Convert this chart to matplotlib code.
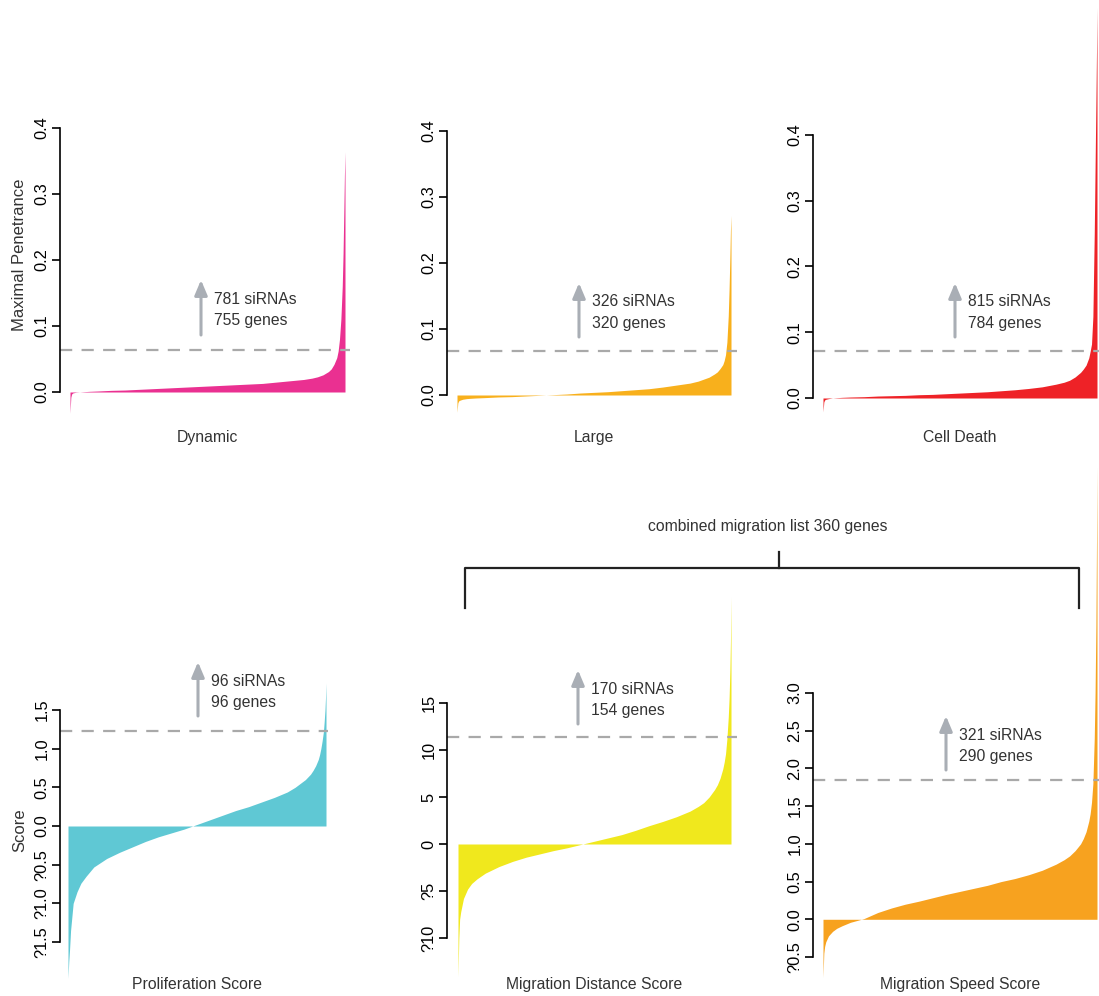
import numpy as np
import matplotlib.pyplot as plt
from matplotlib.lines import Line2D

plt.rcParams['font.family'] = ['Liberation Sans', 'DejaVu Sans']

W, H = 1099, 996

# rank position (percent of sorted siRNAs)
rank = [0, 0.3, 0.6, 1, 2, 3.5, 5, 7, 10, 15, 20, 25, 30, 35, 40, 45, 50, 55, 60,
        65, 70, 75, 80, 85, 88, 90, 92, 94, 95, 96, 97, 97.5, 98, 98.5, 99, 99.3,
        99.6, 99.8, 100]

dynamic = [-0.032, -0.008, -0.003, -0.0015, -0.0005, 0.0, 0.0005, 0.001, 0.0015,
           0.0025, 0.003, 0.004, 0.005, 0.006, 0.007, 0.008, 0.009, 0.010, 0.011,
           0.012, 0.013, 0.015, 0.017, 0.019, 0.021, 0.023, 0.026, 0.031, 0.035,
           0.042, 0.052, 0.062, 0.08, 0.11, 0.16, 0.21, 0.28, 0.33, 0.364]
large = [-0.026, -0.012, -0.009, -0.008, -0.0065, -0.0055, -0.005, -0.0045, -0.004,
         -0.003, -0.0025, -0.0015, -0.0005, 0.0005, 0.0015, 0.003, 0.004, 0.005,
         0.0065, 0.008, 0.0095, 0.012, 0.015, 0.018, 0.021, 0.024, 0.027, 0.032,
         0.035, 0.040, 0.046, 0.052, 0.061, 0.08, 0.12, 0.16, 0.21, 0.25, 0.272]
cell_death = [-0.021, -0.006, -0.003, -0.002, -0.001, 0.0, 0.0005, 0.001, 0.0015,
              0.002, 0.003, 0.0035, 0.004, 0.005, 0.0055, 0.0065, 0.0075, 0.0085,
              0.0095, 0.011, 0.0125, 0.0145, 0.017, 0.021, 0.024, 0.027, 0.032,
              0.039, 0.044, 0.050, 0.061, 0.071, 0.082, 0.124, 0.25, 0.35, 0.45,
              0.52, 0.594]
proliferation = [-1.97, -1.75, -1.6, -1.35, -1.0, -0.85, -0.74, -0.65, -0.53, -0.42,
                 -0.34, -0.27, -0.2, -0.14, -0.09, -0.04, 0.02, 0.08, 0.14, 0.2,
                 0.25, 0.31, 0.37, 0.44, 0.5, 0.55, 0.6, 0.67, 0.72, 0.78, 0.86,
                 0.92, 1.0, 1.1, 1.22, 1.35, 1.5, 1.65, 1.85]
mig_distance = [-14.1, -10.0, -8.0, -7.2, -5.8, -4.8, -4.2, -3.7, -3.1, -2.4, -1.85,
                -1.4, -1.05, -0.7, -0.4, -0.05, 0.3, 0.65, 1.0, 1.45, 1.95, 2.4, 2.9,
                3.5, 4.0, 4.4, 5.0, 5.8, 6.3, 7.0, 8.0, 8.7, 9.6, 11.2, 13.5, 15.5,
                18.5, 21.5, 26.3]
mig_speed = [-0.77, -0.45, -0.36, -0.3, -0.22, -0.16, -0.12, -0.085, -0.04, 0.01,
             0.09, 0.15, 0.2, 0.24, 0.285, 0.33, 0.37, 0.41, 0.45, 0.5, 0.54, 0.59,
             0.65, 0.73, 0.79, 0.84, 0.91, 1.0, 1.07, 1.16, 1.3, 1.4, 1.55, 1.8,
             2.4, 3.0, 3.9, 4.9, 6.0]

titles = ["Dynamic", "Large", "Cell Death",
          "Proliferation Score", "Migration Distance Score", "Migration Speed Score"]
series = [dynamic, large, cell_death, proliferation, mig_distance, mig_speed]
colors = ["#EA3091", "#F8B01C", "#EE2227", "#5FC8D4", "#F0E81D", "#F7A21F"]
thresholds = [0.063, 0.067, 0.071, 1.23, 11.4, 1.84]
counts = [("781 siRNAs", "755 genes"), ("326 siRNAs", "320 genes"),
          ("815 siRNAs", "784 genes"), ("96 siRNAs", "96 genes"),
          ("170 siRNAs", "154 genes"), ("321 siRNAs", "290 genes")]
ticks = [[0.0, 0.1, 0.2, 0.3, 0.4]] * 3 + [
    [-1.5, -1.0, -0.5, 0.0, 0.5, 1.0, 1.5],
    [-10, -5, 0, 5, 10, 15],
    [-0.5, 0.0, 0.5, 1.0, 1.5, 2.0, 2.5, 3.0]]
tick_labels = [["0.0", "0.1", "0.2", "0.3", "0.4"]] * 3 + [
    ["?1.5", "?1.0", "?0.5", "0.0", "0.5", "1.0", "1.5"],
    ["?10", "?5", "0", "5", "10", "15"],
    ["?0.5", "0.0", "0.5", "1.0", "1.5", "2.0", "2.5", "3.0"]]

# layout in pixels: axis line x, data start/end x, right edge, top/bottom tick y
layout = [
    (60, 70, 345, 350, 128, 392),
    (447, 457, 731, 737, 131, 395),
    (813, 823, 1097, 1099, 135, 398),
    (60, 68, 326, 328, 710, 942),
    (447, 458, 731, 737, 703, 938),
    (813, 823, 1097, 1099, 693, 957),
]
# arrow x, arrow tail y, arrow head y (pixels)
arrows = [(201, 335, 280), (579, 337, 283), (955, 337, 283),
          (198, 716, 662), (578, 724, 670), (946, 770, 716)]
title_y = [437, 437, 437, 984, 984, 984]

fig = plt.figure(figsize=(W / 100, H / 100), dpi=100)
grey_txt = "#333333"
fs = 11.3

for i in range(6):
    ax_x, d0, d1, right, ytop, ybot = layout[i]
    ppu = (d1 - d0) / 100.0
    ax = fig.add_axes([ax_x / W, 1 - ybot / H, (right - ax_x) / W, (ybot - ytop) / H])
    ax.set_xlim(-(d0 - ax_x) / ppu, 100 + (right - d1) / ppu)
    ax.set_ylim(ticks[i][0], ticks[i][-1])
    ax.fill_between(rank, 0, series[i], color=colors[i], lw=0, clip_on=False)
    ax.axhline(thresholds[i], color="#A9A9A9", lw=1.6, dashes=(5.5, 4.2))
    ax.patch.set_visible(False)
    for s in ["top", "right", "bottom"]:
        ax.spines[s].set_visible(False)
    ax.spines["left"].set_linewidth(1.2)
    ax.set_xticks([])
    ax.set_yticks(ticks[i])
    ax.set_yticklabels(tick_labels[i], fontsize=fs + 0.5, va="center")
    ax.tick_params(axis="y", labelrotation=90, length=5.5, width=1.2, pad=2)

    fig.text(((d0 + d1) / 2) / W, 1 - title_y[i] / H, titles[i], fontsize=fs,
             color=grey_txt, ha="center", va="center")

    axx, tail, head = arrows[i]
    fig.add_artist(plt.Annotation(
        "", xy=(axx, H - head), xytext=(axx, H - tail),
        xycoords="figure pixels", textcoords="figure pixels",
        arrowprops=dict(arrowstyle="-|>,head_length=0.9,head_width=0.38",
                        color="#A9AEB5", lw=2.2, shrinkA=0, shrinkB=0)))
    fig.text((axx + 13) / W, 1 - (tail - 35) / H, counts[i][0], fontsize=fs,
             color=grey_txt, ha="left", va="center")
    fig.text((axx + 13) / W, 1 - (tail - 14) / H, counts[i][1], fontsize=fs,
             color=grey_txt, ha="left", va="center")

fig.text(20 / W, 1 - 255 / H, "Maximal Penetrance", rotation=90, fontsize=12,
         color=grey_txt, ha="center", va="center")
fig.text(20 / W, 1 - 830 / H, "Score", rotation=90, fontsize=12,
         color=grey_txt, ha="center", va="center")

# bracket grouping the two migration panels
bx = [465, 465, 1079, 1079]
by = [608, 568, 568, 608]
fig.add_artist(Line2D([x / W for x in bx], [1 - y / H for y in by],
                      transform=fig.transFigure, color="#222222", lw=1.6))
fig.add_artist(Line2D([779 / W, 779 / W], [1 - 552 / H, 1 - 568 / H],
                      transform=fig.transFigure, color="#222222", lw=1.6))
fig.text(768 / W, 1 - 526 / H, "combined migration list 360 genes", fontsize=fs,
         color=grey_txt, ha="center", va="center")

fig.savefig("out.png", dpi=100)
